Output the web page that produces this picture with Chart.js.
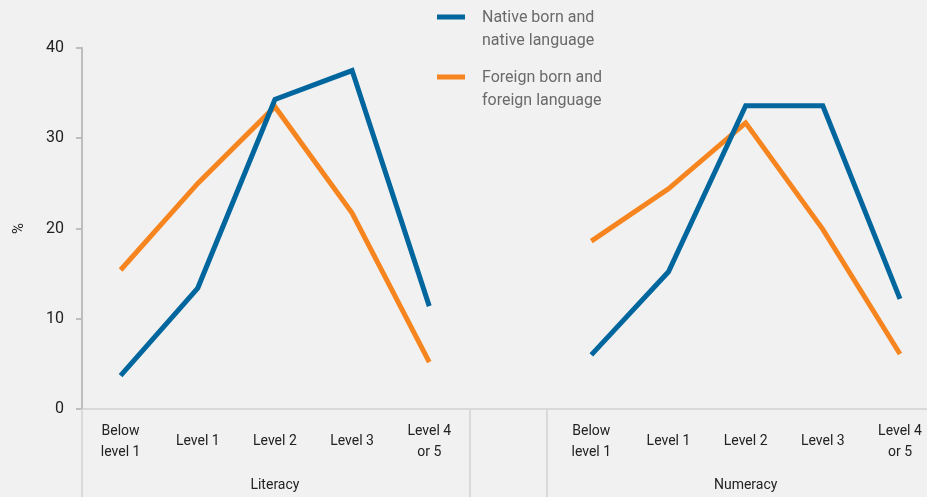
<!DOCTYPE html>
<html>
<head>
<meta charset="utf-8">
<script src="https://cdn.jsdelivr.net/npm/chart.js@4/dist/chart.umd.min.js"></script>
<style>
  html, body { margin: 0; padding: 0; background: #f1f1f1; }
  #wrap { width: 927px; height: 497px; }
</style>
</head>
<body>
<div id="wrap"><canvas id="chart" width="927" height="497"></canvas></div>
<script>
// data
var levels = [['Below', 'level 1'], 'Level 1', 'Level 2', 'Level 3', ['Level 4', 'or 5']];
var groups = ['Literacy', 'Numeracy'];
var nativeLiteracy = [3.7, 13.4, 34.3, 37.5, 11.4];
var nativeNumeracy = [6.0, 15.2, 33.6, 33.6, 12.2];
var foreignLiteracy = [15.4, 25.0, 33.5, 21.7, 5.2];
var foreignNumeracy = [18.6, 24.4, 31.7, 19.9, 6.1];
var seriesNames = [['Native born and', 'native language'], ['Foreign born and', 'foreign language']];
var yTicks = [0, 10, 20, 30, 40];

var FONT = 'Roboto, "Liberation Sans", sans-serif';
var BLUE = '#00669d';
var ORANGE = '#f7851f';

// literacy sits on x = 0..4, numeracy a little over two steps later
var NUM_START = 6.1;
var xLit = [0, 1, 2, 3, 4];
var xNum = xLit.map(function(v) { return v + NUM_START; });

function points(lit, num) {
    var out = [];
    lit.forEach(function(v, i) { out.push({x: xLit[i], y: v}); });
    out.push({x: 5, y: null});
    num.forEach(function(v, i) { out.push({x: xNum[i], y: v}); });
    return out;
}

function labelFor(v) {
    var i = xLit.indexOf(v);
    if (i >= 0) return levels[i];
    i = xNum.findIndex(function(n) { return Math.abs(n - v) < 1e-6; });
    if (i >= 0) return levels[i];
    return '';
}

var extras = {
    id: 'extras',
    afterDraw: function(chart) {
        var ctx = chart.ctx;
        var x = chart.scales.x;
        var area = chart.chartArea;
        ctx.save();
        // panel separators below the axis
        ctx.strokeStyle = '#d9d9d9';
        ctx.lineWidth = 2;
        [-0.5, 4.53, 5.53].forEach(function(v) {
            var px = Math.round(x.getPixelForValue(v));
            ctx.beginPath();
            ctx.moveTo(px, area.bottom);
            ctx.lineTo(px, chart.height);
            ctx.stroke();
        });
        // group names
        ctx.fillStyle = '#222';
        ctx.font = '14px ' + FONT;
        ctx.textAlign = 'center';
        ctx.textBaseline = 'middle';
        ctx.fillText(groups[0], x.getPixelForValue(xLit[2]), 485);
        ctx.fillText(groups[1], x.getPixelForValue(xNum[2]), 485);
        // legend
        ctx.textAlign = 'left';
        ctx.font = '16px ' + FONT;
        chart.data.datasets.forEach(function(ds, i) {
            var y0 = 17 + i * 60;
            ctx.strokeStyle = ds.borderColor;
            ctx.lineWidth = 5;
            ctx.beginPath();
            ctx.moveTo(437, y0);
            ctx.lineTo(465, y0);
            ctx.stroke();
            ctx.fillStyle = '#6a6a6a';
            ds.label.forEach(function(t, j) {
                ctx.fillText(t, 482, y0 + 1 + j * 23);
            });
        });
        ctx.restore();
    }
};

var ctx = document.getElementById('chart');
var myChart = new Chart(ctx, {
    type: 'line',
    data: {
        datasets: [
            {
                label: seriesNames[0],
                data: points(nativeLiteracy, nativeNumeracy),
                borderColor: BLUE,
                backgroundColor: BLUE,
                borderWidth: 5,
                pointRadius: 0,
                tension: 0,
                borderJoinStyle: 'miter',
                spanGaps: false
            },
            {
                label: seriesNames[1],
                data: points(foreignLiteracy, foreignNumeracy),
                borderColor: ORANGE,
                backgroundColor: ORANGE,
                borderWidth: 5,
                pointRadius: 0,
                tension: 0,
                borderJoinStyle: 'miter',
                spanGaps: false
            }
        ]
    },
    options: {
        responsive: false,
        animation: false,
        layout: { padding: { top: 48, right: 0, left: 0, bottom: 0 } },
        plugins: {
            legend: { display: false },
            tooltip: { enabled: false }
        },
        scales: {
            x: {
                type: 'linear',
                min: -0.5,
                max: 10.45,
                afterFit: function(scale) {
                    scale.height = 88;
                    scale.paddingLeft = 0;
                    scale.paddingRight = 0;
                },
                afterBuildTicks: function(scale) {
                    scale.ticks = xLit.concat(xNum).map(function(v) { return {value: v}; });
                },
                grid: { display: false, drawTicks: false },
                border: { display: true, color: '#d9d9d9', width: 2 },
                ticks: {
                    autoSkip: false,
                    maxRotation: 0,
                    padding: 22,
                    crossAlign: 'center',
                    color: '#222',
                    font: { family: FONT, size: 14, lineHeight: 1.5 },
                    callback: function(v) { return labelFor(v); }
                }
            },
            y: {
                min: 0,
                max: 40,
                afterFit: function(scale) { scale.width = 82; },
                afterBuildTicks: function(scale) {
                    scale.ticks = yTicks.map(function(v) { return {value: v}; });
                },
                grid: { drawOnChartArea: false, drawTicks: true, tickLength: 6, color: '#bdbdbd', lineWidth: 2 },
                border: { display: true, color: '#bdbdbd', width: 2 },
                title: {
                    display: true,
                    text: '%',
                    color: '#222',
                    font: { family: FONT, size: 15 },
                    padding: { top: 10, bottom: 0 }
                },
                ticks: {
                    padding: 12,
                    color: '#222',
                    font: { family: FONT, size: 16 }
                }
            }
        }
    },
    plugins: [extras]
});
</script>
</body>
</html>
